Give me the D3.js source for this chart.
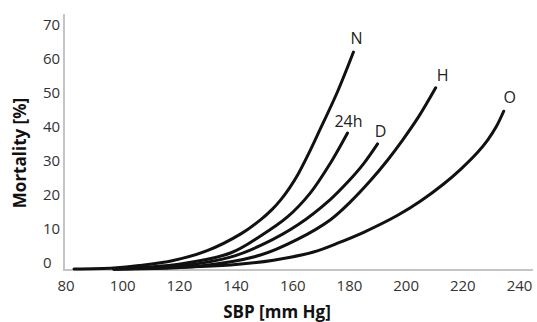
<!DOCTYPE html>
<html>
<head>
<meta charset="utf-8">
<script src="https://cdn.jsdelivr.net/npm/d3@7"></script>
<style>
  html, body { margin: 0; padding: 0; background: #fff; }
  svg { display: block; }
  text { font-family: "Open Sans", sans-serif; }
</style>
</head>
<body>
<svg id="chart" width="537" height="322"></svg>
<script>
// ---- data ----
const sbpTicks = [80, 100, 120, 140, 160, 180, 200, 220, 240];
const mortalityTicks = [0, 10, 20, 30, 40, 50, 60, 70];
const seriesNames = ["N", "24h", "D", "H", "O"];

const seriesN = [[83, 0], [97, 0.3], [106, 1.0], [118, 2.5], [130, 5.4], [142, 10.4], [149, 14.6], [153, 17.6], [156, 20.4], [159, 23.8], [162, 27.8], [166, 34.3], [169, 39.6], [176, 52.2], [181.6, 63.8]];
const series24h = [[97, 0], [120.5, 1.5], [138.2, 4.7], [148.8, 9.7], [158.3, 15.3], [166.4, 22.4], [173.5, 31.2], [179.5, 40]];
const seriesD = [[97, 0], [120.5, 0.9], [138.2, 3.5], [149.8, 7.3], [162, 13], [173.5, 20.5], [179.5, 25.5], [185.2, 31], [190.1, 36.8]];
const seriesH = [[97, 0], [127.6, 0.9], [148.8, 4.1], [161.8, 8.7], [173.5, 14.5], [180.6, 19.8], [187.6, 26], [193.6, 32], [199, 38], [204.6, 44.8], [210.6, 53.3]];
const seriesO = [[97, 0], [138.2, 1.2], [153.4, 2.6], [167.5, 5], [176, 7.6], [185.2, 10.8], [197.2, 15.8], [205.3, 20], [213.4, 25], [219.5, 29.4], [225.5, 34.4], [229, 38.0], [232, 41.9], [234.6, 46.4]];

const seriesValues = [seriesN, series24h, seriesD, seriesH, seriesO];

// ---- layout / style (kept separate from data) ----
const labelOffset = { "N": [3, -14], "24h": [1, -12], "D": [3, -13], "H": [7, -13], "O": [6, -14] };

const svg = d3.select("#chart");

const x = d3.scaleLinear().domain([80, 240]).range([65.5, 519]);
const y = d3.scaleLinear().domain([0, 70]).range([269, 31]);

// axis lines
svg.append("line")
  .attr("x1", 64).attr("x2", 64).attr("y1", 14).attr("y2", 270)
  .attr("stroke", "#c4c4c4").attr("stroke-width", 2);
svg.append("line")
  .attr("x1", 63).attr("x2", 533).attr("y1", 270).attr("y2", 270)
  .attr("stroke", "#c4c4c4").attr("stroke-width", 2);

// x tick labels via axis
const xAxis = d3.axisBottom(x).tickValues(sbpTicks).tickSize(0).tickFormat(d3.format("d"));
const gx = svg.append("g").attr("transform", "translate(0,280)").call(xAxis);
gx.select(".domain").remove();
gx.selectAll("text")
  .attr("font-family", "Open Sans, sans-serif")
  .attr("font-size", 15)
  .attr("fill", "#333")
  .attr("dy", "0.71em")
  .attr("y", 0);

// y tick labels via axis (left-aligned text)
const yAxis = d3.axisLeft(y).tickValues(mortalityTicks).tickSize(0).tickFormat(d3.format("d"));
const gy = svg.append("g").attr("transform", "translate(43,0)").call(yAxis);
gy.select(".domain").remove();
gy.selectAll("text")
  .attr("font-family", "Open Sans, sans-serif")
  .attr("font-size", 15)
  .attr("fill", "#333")
  .attr("text-anchor", "start")
  .attr("x", 0)
  .attr("dy", "-0.12em");

// lines
const line = d3.line()
  .x(d => x(d[0]))
  .y(d => y(d[1]))
  .curve(d3.curveCatmullRom.alpha(0.5));

svg.append("g").selectAll("path")
  .data(seriesValues)
  .join("path")
  .attr("d", line)
  .attr("fill", "none")
  .attr("stroke", "#111")
  .attr("stroke-width", 3)
  .attr("stroke-linecap", "round");

// series labels
svg.append("g").selectAll("text")
  .data(seriesNames)
  .join("text")
  .attr("x", (n, i) => x(seriesValues[i][seriesValues[i].length - 1][0]) + labelOffset[n][0])
  .attr("y", (n, i) => y(seriesValues[i][seriesValues[i].length - 1][1]) + labelOffset[n][1])
  .attr("dy", "0.36em")
  .attr("text-anchor", "middle")
  .attr("font-size", 16)
  .attr("fill", "#222")
  .text(n => n);

// axis titles
svg.append("text")
  .attr("transform", "translate(26,153) rotate(-90)")
  .attr("text-anchor", "middle")
  .attr("font-size", 17)
  .attr("font-weight", "bold")
  .attr("fill", "#111")
  .text("Mortality [%]");

svg.append("text")
  .attr("x", 277).attr("y", 318)
  .attr("text-anchor", "middle")
  .attr("font-size", 17)
  .attr("font-weight", "bold")
  .attr("fill", "#111")
  .text("SBP [mm Hg]");
</script>
</body>
</html>
